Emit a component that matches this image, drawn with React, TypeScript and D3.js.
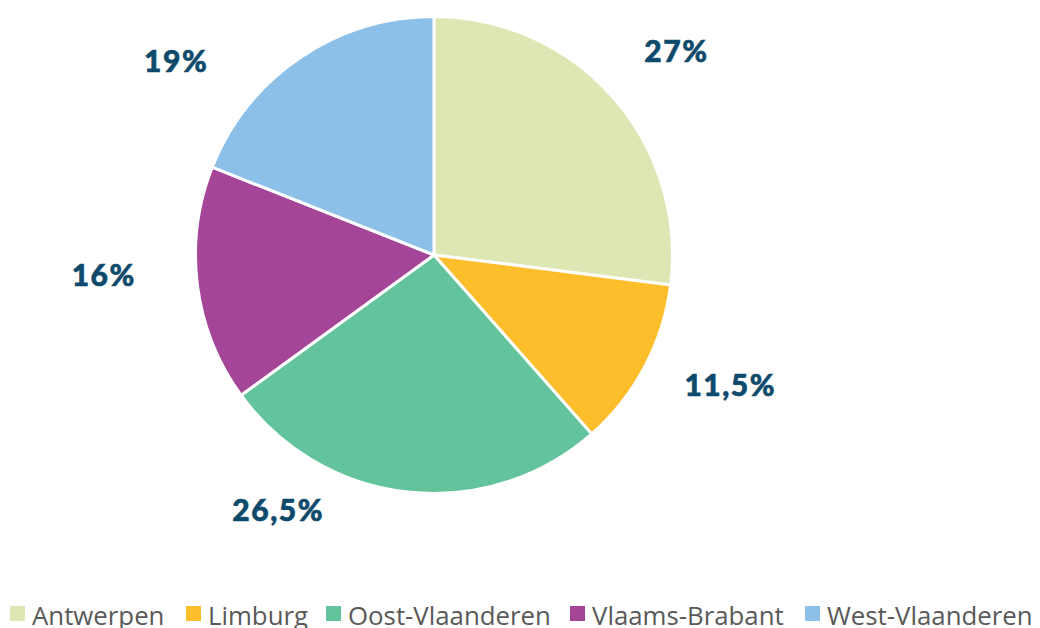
import React from "react";
import * as d3 from "d3";

const categories = ["Antwerpen", "Limburg", "Oost-Vlaanderen", "Vlaams-Brabant", "West-Vlaanderen"];
const values = [27, 11.5, 26.5, 16, 19];
const labels = ["27%", "11,5%", "26,5%", "16%", "19%"];
const colors = ["#DCE7B4", "#FCBE2B", "#63C39C", "#A54597", "#8DC0E8"];
// label placement tweaks (degrees, radius)
const labelAngleShift = [1.5, -4, 25, 3.5, -19];
const labelRadius = [316, 324, 300, 331, 322];

export default function App() {
  const W = 1040, H = 628;
  const cx = 434, cy = 255, r = 238.5;
  const pie = d3.pie<number>().sort(null).value((d) => d)(values);
  const arc = d3.arc<d3.PieArcDatum<number>>().innerRadius(0).outerRadius(r);

  const legendX = [10, 186, 326, 570, 805];
  return (
    <svg width={W} height={H} style={{ position: "absolute", left: 0, top: 0 }}>
      <rect width={W} height={H} fill="#fff" />
      <g transform={`translate(${cx},${cy})`}>
        {pie.map((p, i) => (
          <path key={i} d={arc(p) as string} fill={colors[i]} stroke="#fff" strokeWidth={3} strokeLinejoin="round" />
        ))}
        {pie.map((p, i) => {
          const a = (p.startAngle + p.endAngle) / 2 + (labelAngleShift[i] * Math.PI) / 180;
          const x = Math.sin(a) * labelRadius[i];
          const y = -Math.cos(a) * labelRadius[i] - 2;
          return (
            <text key={i} x={x} y={y} textAnchor="middle" dominantBaseline="central"
              fontFamily="Lato" fontWeight={900} fontSize={30} letterSpacing={1.5} fill="#0E4A6B"
              stroke="#0E4A6B" strokeWidth={0.6}>
              {labels[i]}
            </text>
          );
        })}
      </g>
      <g>
        {categories.map((c, i) => (
          <g key={c} transform={`translate(${legendX[i]},0)`}>
            <rect x={0} y={606} width={15} height={15} fill={colors[i]} />
            <text x={22} y={625} fontFamily="'Open Sans'" fontSize={25.8} fill="#595959">{c}</text>
          </g>
        ))}
      </g>
    </svg>
  );
}
